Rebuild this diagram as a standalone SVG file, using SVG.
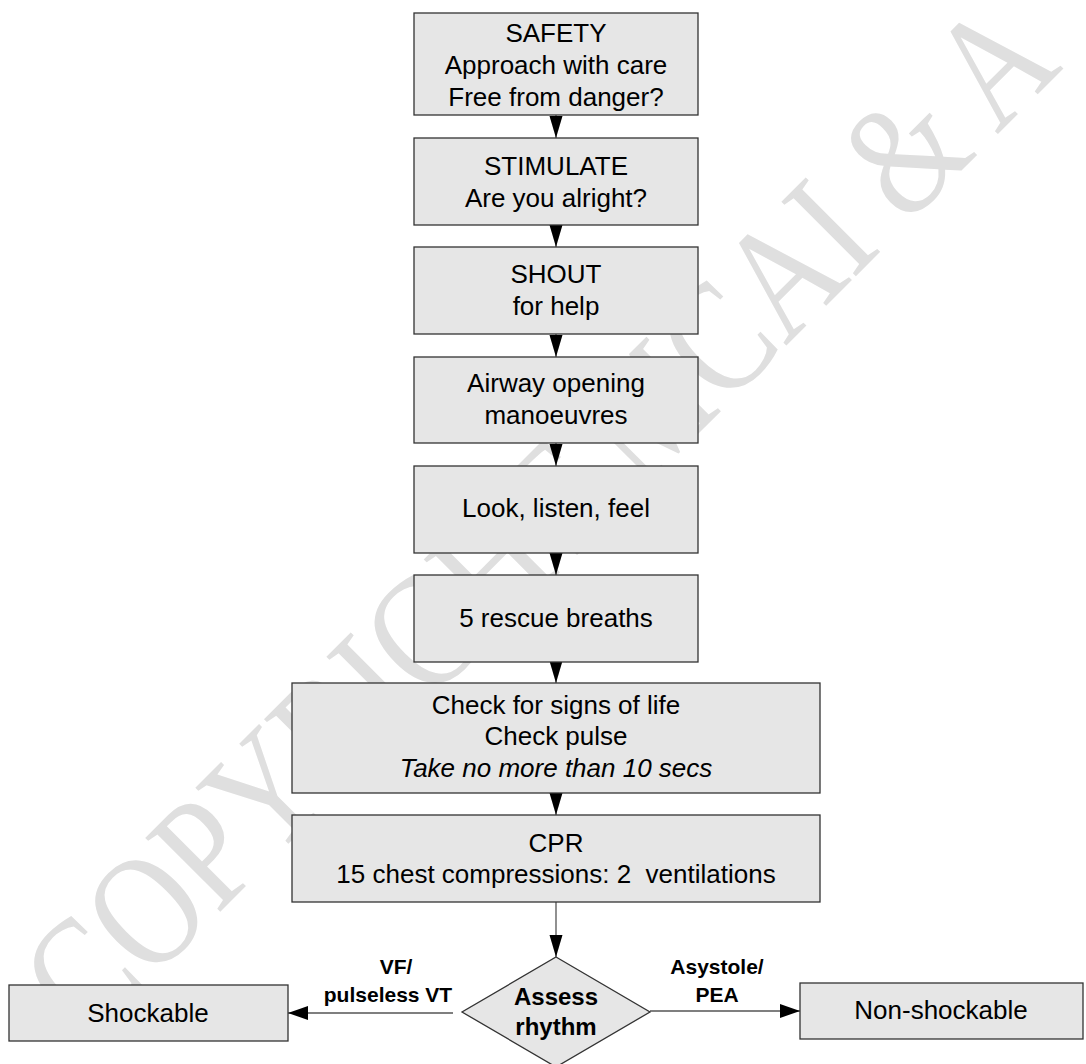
<svg xmlns="http://www.w3.org/2000/svg" width="1086" height="1064" viewBox="0 0 1086 1064">
<style>
.bg{fill:#ffffff}
.wm{font-family:"Liberation Serif","Times New Roman",serif;font-size:134px;fill:#dfdfdf}
.box{fill:#e6e6e6;stroke:#333333;stroke-width:1.3}
.t{font-family:"Liberation Sans",Arial,sans-serif;font-size:26px;fill:#000000;text-anchor:middle}
.it{font-style:italic}
.b{font-family:"Liberation Sans",Arial,sans-serif;font-weight:bold;font-size:24px;fill:#000000;text-anchor:middle}
.lab{font-family:"Liberation Sans",Arial,sans-serif;font-weight:bold;font-size:21px;fill:#000000;text-anchor:middle}
.con{stroke:#555555;stroke-width:1.3;fill:none}
</style>
<defs>
<marker id="av" markerUnits="userSpaceOnUse" markerWidth="22" markerHeight="14" refX="22" refY="7" orient="auto">
<path d="M0,0.5 L22,7 L0,13.5 z" fill="#000000"/>
</marker>
<marker id="ah" markerUnits="userSpaceOnUse" markerWidth="20" markerHeight="16" refX="20" refY="8" orient="auto">
<path d="M0,1 L20,8 L0,15 z" fill="#000000"/>
</marker>
</defs>
<rect class="bg" x="0" y="0" width="1086" height="1064"/>
<text class="wm" transform="translate(88,1044) rotate(-45) scale(0.98,1.2)">COPYRIGHT MCAI &amp; A</text>

<g id="connectors">
<line class="con" x1="556" y1="115" x2="556" y2="138" marker-end="url(#av)"/>
<line class="con" x1="556" y1="225" x2="556" y2="247" marker-end="url(#av)"/>
<line class="con" x1="556" y1="334" x2="556" y2="357" marker-end="url(#av)"/>
<line class="con" x1="556" y1="443" x2="556" y2="466" marker-end="url(#av)"/>
<line class="con" x1="556" y1="553" x2="556" y2="575" marker-end="url(#av)"/>
<line class="con" x1="556" y1="662" x2="556" y2="683" marker-end="url(#av)"/>
<line class="con" x1="556" y1="793" x2="556" y2="815" marker-end="url(#av)"/>
<line class="con" x1="556" y1="902" x2="556" y2="957" marker-end="url(#av)"/>
<line class="con" x1="453" y1="1013" x2="288" y2="1013" marker-end="url(#ah)"/>
<line class="con" x1="650" y1="1011" x2="800" y2="1011" marker-end="url(#ah)"/>
<text class="lab" x="396" y="974">VF/</text>
<text class="lab" x="388" y="1002">pulseless VT</text>
<text class="lab" x="717" y="974">Asystole/</text>
<text class="lab" x="717" y="1002">PEA</text>
</g>

<g id="safety">
<rect class="box" x="414" y="13" width="284" height="102"/>
<text class="t" x="556" y="42">SAFETY</text>
<text class="t" x="556" y="74">Approach with care</text>
<text class="t" x="556" y="106">Free from danger?</text>
</g>
<g id="stimulate">
<rect class="box" x="414" y="138" width="284" height="87"/>
<text class="t" x="556" y="175">STIMULATE</text>
<text class="t" x="556" y="207">Are you alright?</text>
</g>
<g id="shout">
<rect class="box" x="414" y="247" width="284" height="87"/>
<text class="t" x="556" y="283">SHOUT</text>
<text class="t" x="556" y="315">for help</text>
</g>
<g id="airway">
<rect class="box" x="414" y="357" width="284" height="86"/>
<text class="t" x="556" y="392">Airway opening</text>
<text class="t" x="556" y="424">manoeuvres</text>
</g>
<g id="look">
<rect class="box" x="414" y="466" width="284" height="87"/>
<text class="t" x="556" y="517">Look, listen, feel</text>
</g>
<g id="rescue">
<rect class="box" x="414" y="575" width="284" height="87"/>
<text class="t" x="556" y="627">5 rescue breaths</text>
</g>
<g id="check">
<rect class="box" x="292" y="683" width="528" height="110"/>
<text class="t" x="556" y="714">Check for signs of life</text>
<text class="t" x="556" y="745">Check pulse</text>
<text class="t it" x="556" y="777">Take no more than 10 secs</text>
</g>
<g id="cpr">
<rect class="box" x="292" y="815" width="528" height="87"/>
<text class="t" x="556" y="852">CPR</text>
<text class="t" x="556" y="883" xml:space="preserve">15 chest compressions: 2  ventilations</text>
</g>
<g id="assess">
<polygon class="box" points="556,957 650,1012 556,1067 462,1012"/>
<text class="b" x="556" y="1005">Assess</text>
<text class="b" x="556" y="1035">rhythm</text>
</g>
<g id="shockable">
<rect class="box" x="9" y="985" width="279" height="56"/>
<text class="t" x="148" y="1022">Shockable</text>
</g>
<g id="nonshockable">
<rect class="box" x="800" y="983" width="283" height="56"/>
<text class="t" x="941" y="1019">Non-shockable</text>
</g>
</svg>
